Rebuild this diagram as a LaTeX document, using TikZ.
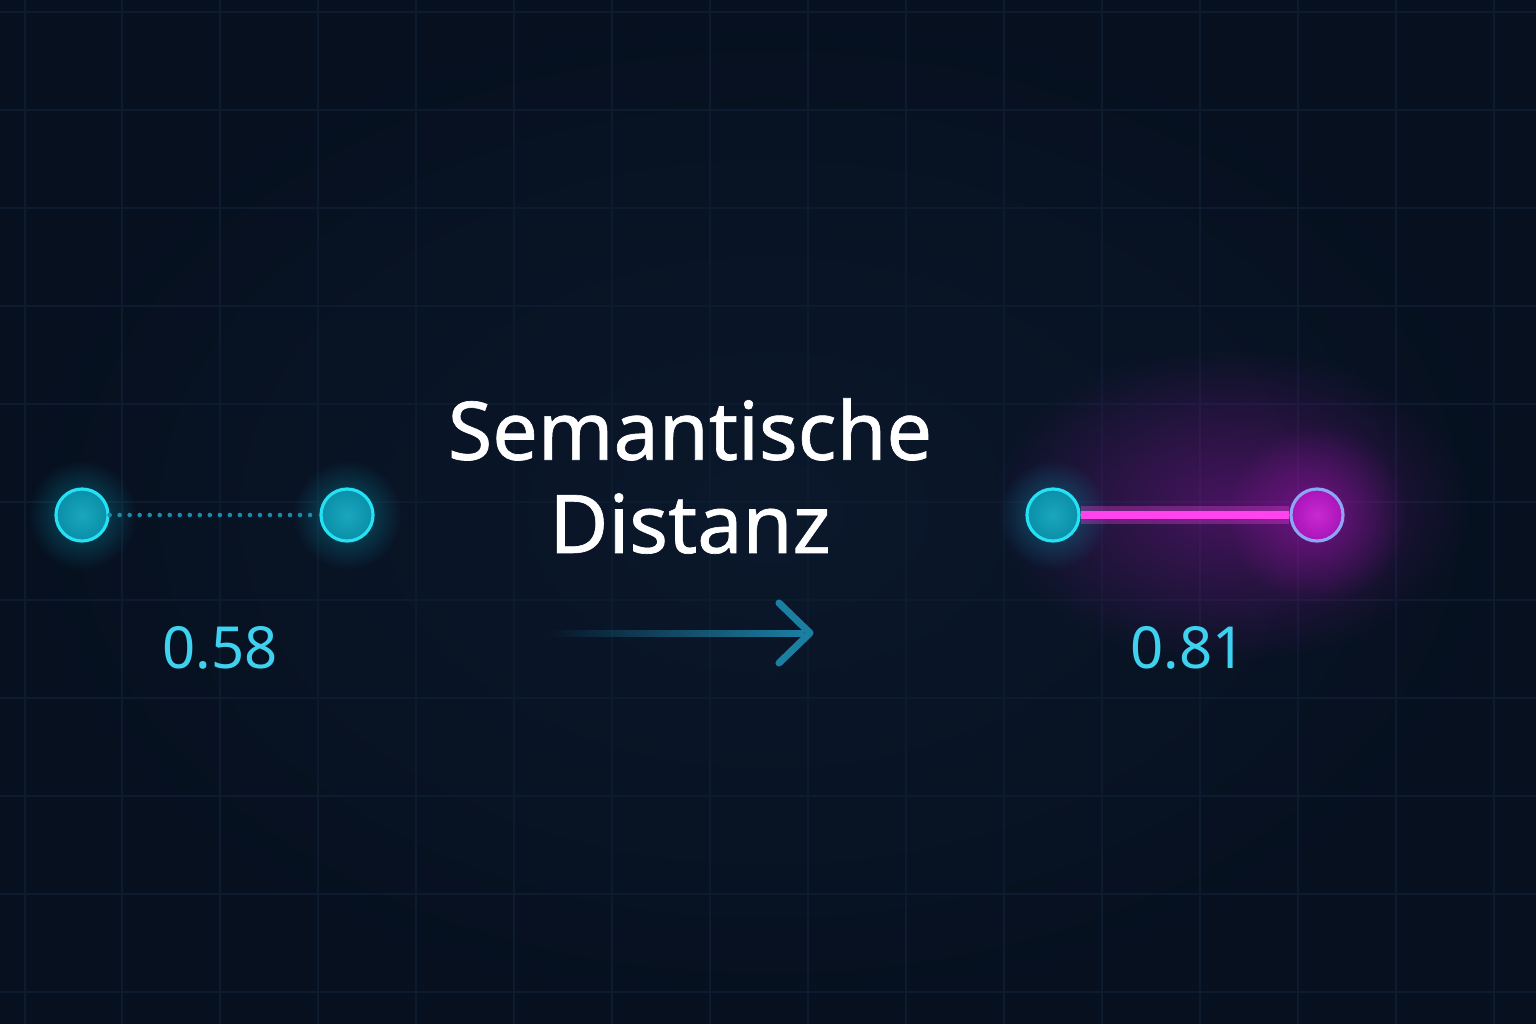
\documentclass[tikz,border=0pt]{standalone}
\usepackage{fontspec}
\setmainfont{Noto Sans}
\newfontfamily\titlefont[FakeBold=0.8]{Noto Sans}
\usetikzlibrary{fadings,positioning}
\definecolor{bgc}{HTML}{0B182B}
\definecolor{bgedge}{HTML}{06101F}
\definecolor{gridc}{HTML}{0D1B2F}
\definecolor{cyanl}{HTML}{24E2F4}
\definecolor{cyanf}{HTML}{0A8FA8}
\definecolor{cyanin}{HTML}{1AA6BE}
\definecolor{dotline}{HTML}{1A8CAA}
\definecolor{numc}{HTML}{3ED2F0}
\definecolor{magl}{HTML}{FF44EE}
\definecolor{magf}{HTML}{A814B8}
\definecolor{magin}{HTML}{C82AD0}
\definecolor{lavl}{HTML}{8EA4F4}
\definecolor{arrc}{HTML}{1C7FA2}
\tikzfading[name=glowfade, inner color=transparent!0, outer color=transparent!100]
\tikzfading[name=shaftfade, left color=transparent!100, right color=transparent!0]
\tikzset{
  dotc/.style={circle,draw=cyanl,line width=0.9pt,inner color=cyanin,outer color=cyanf,minimum size=0.52cm,inner sep=0pt},
  magc/.style={circle,draw=lavl,line width=0.9pt,inner color=magin,outer color=magf,minimum size=0.52cm,inner sep=0pt},
  numlbl/.style={text=numc,font=\fontsize{16.5}{18}\selectfont}
}

\begin{document}
\begin{tikzpicture}[x=0.01cm,y=-0.01cm]
	\useasboundingbox (0,0) rectangle (1536,1024);
	\shade[inner color=bgc,outer color=bgedge] (0,0) rectangle (1536,1024);
	\foreach \gx in {25,122,220,318,416,514,612,710,808,906,1004,1102,1200,1298,1396,1494}
		\draw[gridc,line width=0.3pt] (\gx,0) -- (\gx,1024);
	\foreach \gy in {12,110,208,306,404,502,600,698,796,894,992}
		\draw[gridc,line width=0.3pt] (0,\gy) -- (1536,\gy);
	\path (82,515) coordinate(p1)
		(347,515) coordinate(p2)
		(1053,515) coordinate(q1)
		(1317,515) coordinate(q2)
		(548,633) coordinate(a0)
		(810,633) coordinate(a1);
	\fill[magf,opacity=0.4,path fading=glowfade] (1230,505) ellipse (240 and 160);
	\fill[magf,opacity=0.55,path fading=glowfade] (q2) circle (90);
	\foreach \c in {p1,p2,q1}
		\fill[cyanf,opacity=0.55,path fading=glowfade] (\c) circle (55);
	\path (p1) node(l1)[dotc]{}
		(p2) node(l2)[dotc]{}
		(q1) node(r1)[dotc]{}
		(q2) node(r2)[magc]{};
	\draw[dotline,line width=1.3pt,line cap=round,dash pattern=on 0pt off 2.85pt] (l1.east) -- (l2.west);
	\draw[magl,opacity=0.3,line width=5pt] (r1.east) -- (r2.west);
	\draw[magl,line width=2.2pt] (r1.east) -- (r2.west);
	\path (220,648) node(v1)[numlbl]{0.58}
		(1188,648) node(v2)[numlbl]{0.81}
		(690,476) node(title)[align=center,text=white,font=\titlefont\fontsize{23}{26.5}\selectfont]{Semantische\\Distanz};
	\fill[arrc,path fading=shaftfade] ([yshift=-0.035cm]a0) rectangle ([yshift=0.035cm,xshift=-0.06cm]a1);
	\draw[arrc,line width=2pt,line cap=round,line join=round] ([xshift=-0.31cm,yshift=0.3cm]a1) -- (a1) -- ([xshift=-0.31cm,yshift=-0.3cm]a1);
\end{tikzpicture}
\end{document}
